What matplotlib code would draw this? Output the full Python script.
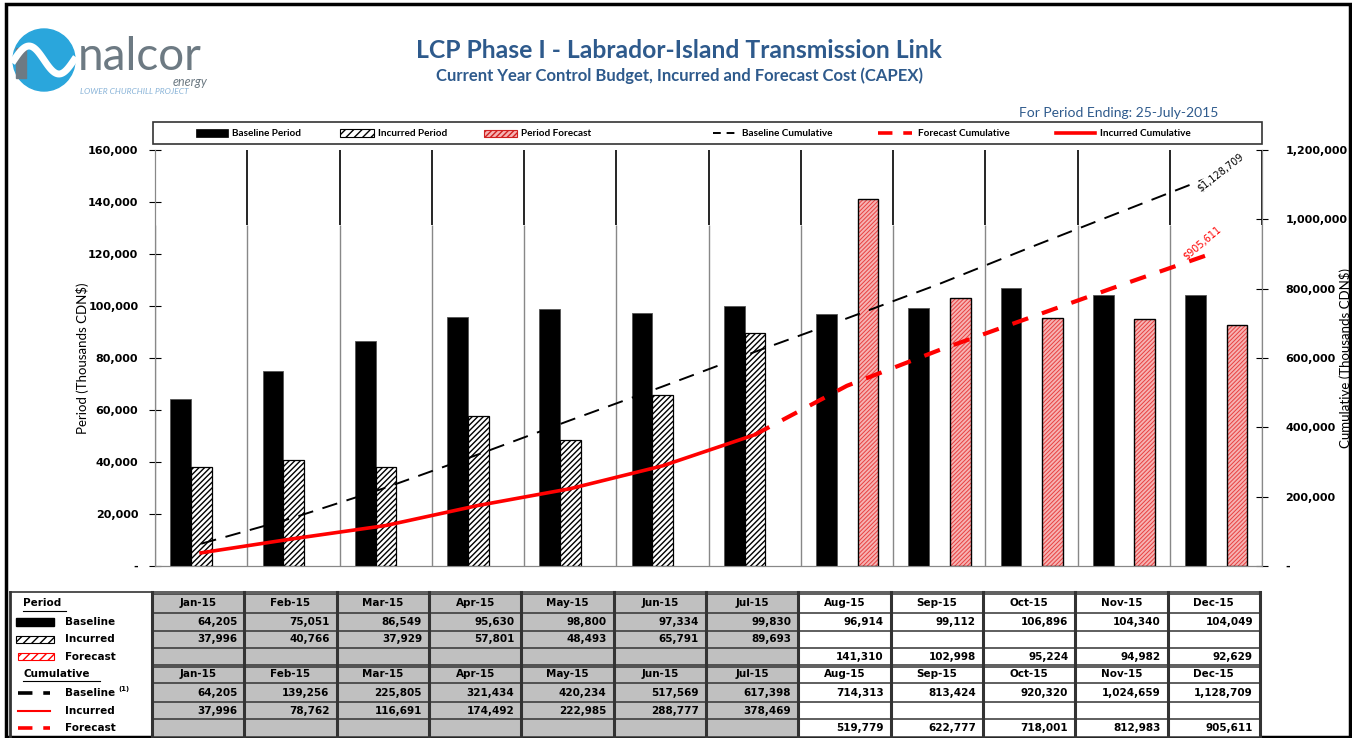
import numpy as np
import matplotlib
matplotlib.use("Agg")
import matplotlib.pyplot as plt
from matplotlib.patches import Rectangle, Circle
from matplotlib.lines import Line2D

plt.rcParams['font.family'] = ['Lato', 'DejaVu Sans']
plt.rcParams['hatch.linewidth'] = 1.0

months = ['Jan-15', 'Feb-15', 'Mar-15', 'Apr-15', 'May-15', 'Jun-15',
          'Jul-15', 'Aug-15', 'Sep-15', 'Oct-15', 'Nov-15', 'Dec-15']
baseline_period = [64205, 75051, 86549, 95630, 98800, 97334, 99830,
                   96914, 99112, 106896, 104340, 104049]
incurred_period = [37996, 40766, 37929, 57801, 48493, 65791, 89693]
forecast_period = [141310, 102998, 95224, 94982, 92629]
baseline_cum = [64205, 139256, 225805, 321434, 420234, 517569, 617398,
                714313, 813424, 920320, 1024659, 1128709]
incurred_cum = [37996, 78762, 116691, 174492, 222985, 288777, 378469]
forecast_cum = [519779, 622777, 718001, 812983, 905611]

W, H = 1352, 738
BLUE = '#2e5a8c'
PINK = '#f6b3b3'
TAB_FONT = 'DejaVu Sans'


def frac(x0, y0, x1, y1):
    return [x0 / W, 1 - y1 / H, (x1 - x0) / W, (y1 - y0) / H]


fig = plt.figure(figsize=(W / 100, H / 100), dpi=100)

# ---------------- main chart ----------------
ax = fig.add_axes(frac(155, 150, 1262, 566))
ax2 = ax.twinx()
n_inc = len(incurred_period)
x = np.arange(len(months))
xi = np.arange(n_inc)
xf = np.arange(n_inc, len(months))
bw = 0.225

ax.bar(x - 0.22, baseline_period, bw, color='black', edgecolor='#555555', lw=0.6, zorder=3)
ax.bar(xi + 0.005, incurred_period, bw, color='white', edgecolor='black', hatch='//////', lw=0, zorder=3)
ax.bar(xi + 0.005, incurred_period, bw, fill=False, edgecolor='black', lw=0.9, zorder=3)
plt.rcParams['hatch.linewidth'] = 0.7
ax.bar(xf + 0.23, forecast_period, bw, color=PINK, edgecolor='#e84040', hatch='////////', lw=0, zorder=3)
ax.bar(xf + 0.23, forecast_period, bw, fill=False, edgecolor='black', lw=1.0, zorder=3)
plt.rcParams['hatch.linewidth'] = 1.0

for k in range(len(months) + 1):
    ax.vlines(k - 0.5, 0, 131000, color='#888888', lw=1.0, zorder=1)
    ax.vlines(k - 0.5, 131000, 160000, color='black', lw=1.2, zorder=1)

ax.set_xlim(-0.5, len(months) - 0.5)
ax.set_ylim(0, 160000)
ax.set_yticks(np.arange(0, 160001, 20000))
ax.set_yticklabels(['-'] + [f'{v:,}' for v in range(20000, 160001, 20000)],
                   fontsize=8, fontweight='bold', family='DejaVu Sans')
ax.set_xticks([])
ax.tick_params(axis='y', direction='inout', length=8, width=0.8, pad=8)
ax.set_ylabel('Period (Thousands CDN$)', fontsize=9.5)
ax.yaxis.set_label_coords(-0.060, 0.5)

ax2.plot(x, baseline_cum, color='black', lw=1.4, dashes=(8, 5), zorder=4)
ax2.plot(xi, incurred_cum, color='#ff0000', lw=2.6, zorder=4)
ax2.plot(np.r_[xi[-1], xf], [incurred_cum[-1]] + forecast_cum, color='#ff0000',
         lw=3, dashes=(4, 3.5), zorder=4)
ax2.set_ylim(0, 1200000)
ax2.set_yticks(np.arange(0, 1200001, 200000))
ax2.set_yticklabels(['-'] + [f'{v:,}' for v in range(200000, 1200001, 200000)],
                    fontsize=8, fontweight='bold', family='DejaVu Sans')
ax2.tick_params(axis='y', direction='inout', length=8, width=0.8, pad=13)
ax2.set_ylabel('Cumulative (Thousands CDN$)', fontsize=9.5)
ax2.yaxis.set_label_coords(1.070, 0.5)
ax2.text(x[-1] + 0.05, baseline_cum[-1] + 8000, f'${baseline_cum[-1]:,}', rotation=38,
         fontsize=7, ha='center', va='center', color='black', family='DejaVu Sans',
         bbox=dict(facecolor='white', edgecolor='none', pad=0.3), zorder=6)
ax2.text(x[-1] - 0.15, forecast_cum[-1] + 28000, f'${forecast_cum[-1]:,}', rotation=40,
         fontsize=7, ha='center', va='center', color='#ff0000', family='DejaVu Sans', zorder=6)

for a in (ax, ax2):
    a.spines['top'].set_visible(False)
    a.spines['left'].set_color('#888888')
    a.spines['right'].set_color('#888888')
    a.spines['bottom'].set_color('#888888')
    a.patch.set_visible(False)

# ---------------- overlay (title, legend, table, logo) ----------------
ov = fig.add_axes([0, 0, 1, 1])
ov.set_xlim(0, W)
ov.set_ylim(H, 0)
ov.axis('off')
ov.set_zorder(-1)

ov.add_patch(Rectangle((6, 4), 1344, 733, fill=False, edgecolor='black', lw=2.5))

ov.text(679, 50, 'LCP Phase I - Labrador-Island Transmission Link', ha='center', va='center',
        fontsize=17.8, fontweight='bold', color=BLUE)
ov.text(679, 76, 'Current Year Control Budget, Incurred and Forecast Cost (CAPEX)', ha='center',
        va='center', fontsize=12, fontweight='bold', color=BLUE)
ov.text(1218, 113, 'For Period Ending: 25-July-2015', ha='right', va='center',
        fontsize=10, color=BLUE)

# logo
ov.add_patch(Circle((44, 60), 31, color='#2aa6dc'))
tt = np.linspace(-1, 1, 50)
ov.plot(44 + 30 * tt, 60 + 14 * np.sin(np.pi * tt), color='white', lw=5)
ov.add_patch(Rectangle((16, 48), 10, 30, color='#6d7a83'))
ov.text(78, 70, 'nalcor', fontsize=33, color='#6d7a83', va='baseline', ha='left')
ov.text(208, 76, 'energy', fontsize=9, color='#6d7a83', va='top', ha='right', style='italic')
ov.text(80, 91, 'LOWER CHURCHILL PROJECT', fontsize=6, color='#8ab4d8', va='center',
        ha='left', style='italic')

# legend box
ov.add_patch(Rectangle((153, 122), 1109, 22, fill=False, edgecolor='#333333', lw=1.2))
ly = 133
fs_leg = 7.2
ov.add_patch(Rectangle((196, ly - 4), 32, 8, facecolor='black', edgecolor='black', lw=0.5))
ov.text(232, ly, 'Baseline Period', fontsize=fs_leg, fontweight='bold', va='center')
ov.add_patch(Rectangle((340, ly - 4), 34, 8, facecolor='white', edgecolor='black', hatch='////', lw=0.8))
ov.text(378, ly, 'Incurred Period', fontsize=fs_leg, fontweight='bold', va='center')
ov.add_patch(Rectangle((484, ly - 3.5), 33, 7, facecolor=PINK, edgecolor='#d02020', hatch='//////', lw=0.8))
ov.text(521, ly, 'Period Forecast', fontsize=fs_leg, fontweight='bold', va='center')
ov.add_line(Line2D([713, 737], [ly, ly], color='black', lw=1.4, dashes=(4, 3)))
ov.text(742, ly, 'Baseline Cumulative', fontsize=fs_leg, fontweight='bold', va='center')
ov.add_line(Line2D([878, 912], [ly, ly], color='#ff0000', lw=2.6, dashes=(4, 3)))
ov.text(918, ly, 'Forecast Cumulative', fontsize=fs_leg, fontweight='bold', va='center')
ov.add_line(Line2D([1056, 1095], [ly, ly], color='#ff0000', lw=2.6))
ov.text(1100, ly, 'Incurred Cumulative', fontsize=fs_leg, fontweight='bold', va='center')

# ---------------- table ----------------
col_x = [152 + k * 92.33 for k in range(len(months) + 1)]
row_y = [594, 613, 631, 648, 665, 683, 702, 719, 737]
grey = '#c0c0c0'
fs_tab = 7.5

for r in range(8):
    for c in range(len(months)):
        fc = grey if c < n_inc else 'white'
        ov.add_patch(Rectangle((col_x[c], row_y[r]), col_x[c + 1] - col_x[c],
                               row_y[r + 1] - row_y[r], facecolor=fc, edgecolor='none'))
for y in row_y:
    ov.add_line(Line2D([col_x[0], col_x[-1]], [y, y], color='#333333', lw=1.1))
for y in (row_y[0] - 2, row_y[4] + 2):
    ov.add_line(Line2D([col_x[0], col_x[-1]], [y, y], color='#333333', lw=1.1))
for cx in col_x:
    ov.add_line(Line2D([cx, cx], [row_y[0] - 2, row_y[-1]], color='#333333', lw=2.2))
ov.add_line(Line2D([10, 10], [row_y[0] - 2, row_y[-1]], color='#333333', lw=2.0))
ov.add_line(Line2D([10, col_x[0]], [row_y[0] - 2, row_y[0] - 2], color='#333333', lw=1.2))

table_rows = [
    (0, months, 'center'),
    (1, [f'{v:,}' for v in baseline_period], 'right'),
    (2, [f'{v:,}' for v in incurred_period], 'right'),
    (3, [''] * n_inc + [f'{v:,}' for v in forecast_period], 'right'),
    (4, months, 'center'),
    (5, [f'{v:,}' for v in baseline_cum], 'right'),
    (6, [f'{v:,}' for v in incurred_cum], 'right'),
    (7, [''] * n_inc + [f'{v:,}' for v in forecast_cum], 'right'),
]
for r, vals, align in table_rows:
    yc = (row_y[r] + row_y[r + 1]) / 2
    for c, s in enumerate(vals):
        if align == 'center':
            xc = (col_x[c] + col_x[c + 1]) / 2
        else:
            xc = col_x[c + 1] - 7
        ov.text(xc, yc, s, ha=align, va='center', fontsize=fs_tab, fontweight='bold',
                family=TAB_FONT)


# left side legend of table
def ylab(r):
    return (row_y[r] + row_y[r + 1]) / 2


def tab_label(xp, r, s):
    ov.text(xp, ylab(r), s, fontsize=fs_tab, fontweight='bold', va='center', family=TAB_FONT)


tab_label(23, 0, 'Period')
ov.add_line(Line2D([23, 66], [ylab(0) + 7, ylab(0) + 7], color='black', lw=0.8))
ov.add_patch(Rectangle((16, ylab(1) - 4), 38, 8, facecolor='black', edgecolor='black'))
tab_label(65, 1, 'Baseline')
ov.add_patch(Rectangle((16, ylab(2) - 3.5), 38, 7, facecolor='white', edgecolor='black', hatch='////', lw=0.8))
tab_label(65, 2, 'Incurred')
ov.add_patch(Rectangle((18, ylab(3) - 3.5), 36, 7, facecolor='white', edgecolor='#ff0000', hatch='////', lw=0.8))
tab_label(65, 3, 'Forecast')
tab_label(23, 4, 'Cumulative')
ov.add_line(Line2D([23, 100], [ylab(4) + 7, ylab(4) + 7], color='black', lw=0.8))
ov.add_line(Line2D([18, 50], [ylab(5), ylab(5)], color='black', lw=2.6, dashes=(4, 3)))
tab_label(65, 5, 'Baseline')
ov.text(118, ylab(5) - 3, '(1)', fontsize=5, fontweight='bold', va='center', family=TAB_FONT)
ov.add_line(Line2D([18, 50], [ylab(6), ylab(6)], color='#ff0000', lw=1.5))
tab_label(65, 6, 'Incurred')
ov.add_line(Line2D([18, 50], [ylab(7), ylab(7)], color='#ff0000', lw=2.6, dashes=(4, 3)))
tab_label(65, 7, 'Forecast')

fig.savefig('out.png', dpi=100)
